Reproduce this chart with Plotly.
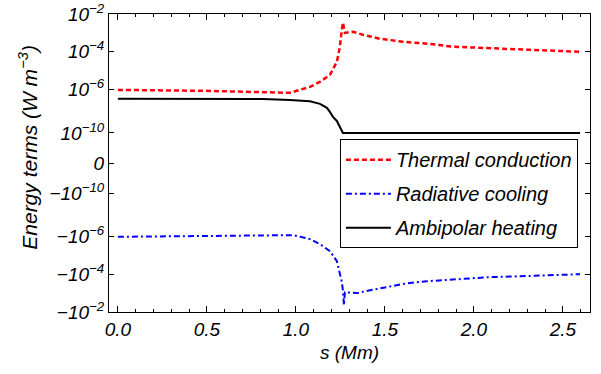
import numpy as np
import plotly.graph_objects as go

# Position along the loop, s (Mm), and the energy terms (W m^-3)
s_cond = [0.0, 0.5, 0.966, 1.006, 1.079, 1.135, 1.191, 1.230, 1.247, 1.258, 1.264,
          1.275, 1.32, 1.376, 1.472, 1.60, 1.753, 1.882, 2.073, 2.258, 2.444, 2.596]
thermal_conduction = [8.9e-7, 7.3e-7, 4.8e-7, 7.3e-7, 1.36e-6, 2.5e-6, 5.9e-6, 2.9e-5, 1.85e-4,
                      1.5e-3, 3.5e-3, 1.0e-3, 1.15e-3, 8.0e-4, 4.9e-4, 3.4e-4, 2.6e-4, 1.85e-4,
                      1.6e-4, 1.28e-4, 1.13e-4, 1.0e-4]

s_rad = [0.0, 0.5, 0.983, 1.022, 1.079, 1.135, 1.191, 1.230, 1.247, 1.258, 1.264, 1.267,
         1.270, 1.275, 1.343, 1.416, 1.511, 1.624, 1.736, 1.882, 2.073, 2.258, 2.444, 2.596]
radiative_cooling = [-1.02e-6, -8.5e-7, -7.3e-7, -1.0e-6, -1.36e-6, -2.5e-6, -5.9e-6, -2.0e-5,
                     -7.8e-5, -2.6e-4, -7.1e-4, -2.4e-3, -4.4e-3, -9.0e-4, -1.0e-3, -7.1e-4,
                     -4.9e-4, -3.0e-4, -2.35e-4, -1.96e-4, -1.45e-4, -1.28e-4, -1.13e-4, -1.0e-4]

s_amb = [0.0, 0.5, 0.815, 0.966, 1.079, 1.135, 1.174, 1.191, 1.208, 1.230, 1.247, 1.264,
         1.5, 2.0, 2.596]
ambipolar_heating = [1.35e-7, 1.35e-7, 1.3e-7, 1.07e-7, 7.9e-8, 4.7e-8, 2.0e-8, 8.5e-9, 3.0e-9,
                     1.26e-9, 3.6e-10, 1.0e-10, 1.0e-10, 1.0e-10, 1.0e-10]

# Labelled y ticks
y_tick_values = [1e-2, 1e-4, 1e-6, 1e-10, 0.0, -1e-10, -1e-6, -1e-4, -1e-2]
y_tick_labels = ["10<sup>−2</sup>", "10<sup>−4</sup>", "10<sup>−6</sup>", "10<sup>−10</sup>", "0",
                 "−10<sup>−10</sup>", "−10<sup>−6</sup>", "−10<sup>−4</sup>", "−10<sup>−2</sup>"]

# Signed logarithmic axis: piecewise-linear in log10|v|, symmetric about zero
SCALE_LOG = [-10.0, -6.0, -4.0, -2.0]
SCALE_POS = [30.0, 73.5, 111.0, 148.7]


def to_axis(values):
    v = np.asarray(values, dtype=float)
    out = np.zeros_like(v)
    nz = v != 0
    out[nz] = np.sign(v[nz]) * np.interp(np.log10(np.abs(v[nz])), SCALE_LOG, SCALE_POS)
    return out


FONT = "Liberation Sans, Arial, sans-serif"
TICK_FONT = dict(family=FONT, size=19, style="italic", color="black")

fig = go.Figure()
fig.add_trace(go.Scatter(x=s_cond, y=to_axis(thermal_conduction), mode="lines",
                         name="Thermal conduction", legendgroup="a",
                         line=dict(color="#ff0000", width=2.5, dash="5px,3px")))
fig.add_trace(go.Scatter(x=s_rad, y=to_axis(radiative_cooling), mode="lines",
                         name="Radiative cooling", legendgroup="b",
                         line=dict(color="#0000ff", width=2, dash="6px,3px,2px,3px")))
fig.add_trace(go.Scatter(x=s_amb, y=to_axis(ambipolar_heating), mode="lines",
                         name="Ambipolar heating", legendgroup="c",
                         line=dict(color="black", width=2)))

fig.update_layout(
    width=601, height=374,
    margin=dict(l=109, r=11, t=14, b=62, autoexpand=False),
    paper_bgcolor="white", plot_bgcolor="white",
    font=dict(family=FONT, size=19, color="black", style="italic"),
    showlegend=True,
    legend=dict(x=0.48, y=0.58, xanchor="left", yanchor="top",
                bgcolor="white", bordercolor="black", borderwidth=1,
                font=dict(family=FONT, size=20, style="italic", color="black"),
                itemwidth=45, tracegroupgap=5),
    xaxis=dict(range=[-0.05, 2.652], showline=True, linecolor="black", linewidth=1,
               mirror="ticks", ticks="inside", ticklen=6, tickcolor="black",
               dtick=0.5, tick0=0, tickformat=".1f", showgrid=False, zeroline=False,
               automargin=False, tickfont=TICK_FONT,
               minor=dict(ticks="inside", ticklen=3, dtick=0.1, tickcolor="black",
                          showgrid=False),
               title=dict(text="s (Mm)", font=TICK_FONT, standoff=6)),
    yaxis=dict(range=[-148.7, 148.7], showline=True, linecolor="black", linewidth=1,
               mirror="ticks", ticks="inside", ticklen=5, tickcolor="black",
               tickmode="array", tickvals=to_axis(y_tick_values).tolist(),
               ticktext=y_tick_labels, showgrid=False, zeroline=False,
               automargin=False, tickfont=TICK_FONT),
)

# Rotated y-axis title
fig.add_annotation(text="Energy terms (W m<sup>−3</sup>)", textangle=-90,
                   xref="paper", yref="paper", x=-0.17, y=0.552,
                   xanchor="center", yanchor="middle", showarrow=False,
                   font=dict(family=FONT, size=21, style="italic", color="black"))

fig.write_html("out.html")
